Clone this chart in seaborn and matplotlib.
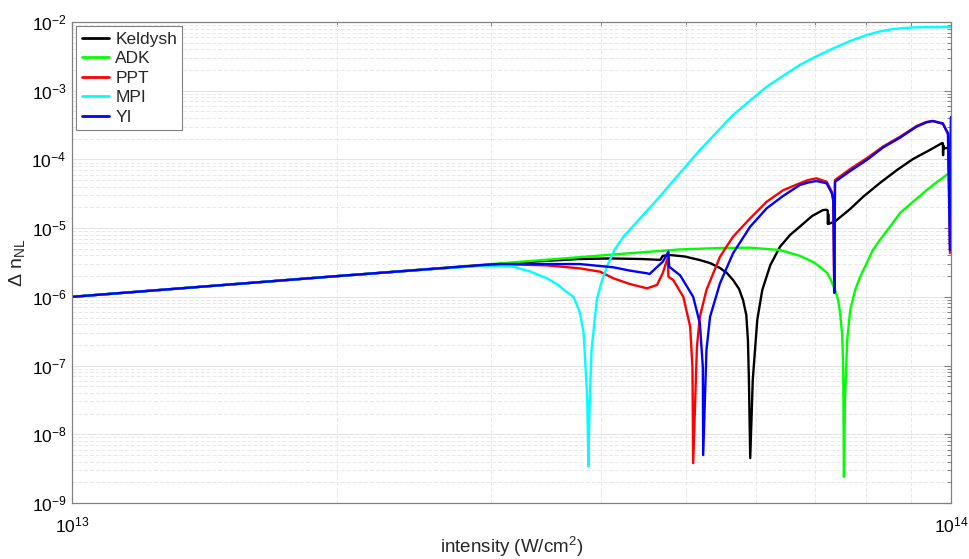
import numpy as np
import pandas as pd
import matplotlib
matplotlib.use("Agg")
import matplotlib.pyplot as plt
from matplotlib.ticker import LogLocator, NullFormatter, LogFormatterSciNotation
import seaborn as sns

# Intensities are given in units of 1e13 W/cm^2
I_UNIT = 1e13

# Keldysh model
I_keldysh = [1.0, 2.0, 2.9, 3.4, 3.78, 4.1, 4.45, 4.67, 4.70, 4.79, 4.98, 5.18,
             5.32, 5.46, 5.56, 5.65, 5.74, 5.80, 5.85, 5.875, 5.89, 5.91, 5.95,
             6.02, 6.10, 6.23, 6.39, 6.56, 6.73, 6.95, 7.15, 7.22, 7.24, 7.245,
             7.25, 7.255, 7.38, 7.68, 7.94, 8.30, 8.68, 9.05, 9.46, 9.77, 9.79,
             9.795, 9.80, 9.805, 9.92, 10.0]
dn_keldysh = [1.0e-6, 2.0e-6, 2.85e-6, 3.3e-6, 3.55e-6, 3.62e-6, 3.55e-6, 3.45e-6,
              3.95e-6, 4.06e-6, 3.86e-6, 3.43e-6, 3.1e-6, 2.63e-6, 2.22e-6, 1.76e-6,
              1.3e-6, 9.0e-7, 5.43e-7, 2.35e-7, 6.15e-8, 4.5e-9, 6.2e-8, 4.6e-7,
              1.26e-6, 2.9e-6, 5.36e-6, 7.94e-6, 1.05e-5, 1.5e-5, 1.83e-5, 1.85e-5,
              1.8e-5, 1.15e-5, 1.6e-5, 1.15e-5, 1.25e-5, 1.9e-5, 2.84e-5, 4.53e-5,
              7.0e-5, 1.01e-4, 1.37e-4, 1.73e-4, 1.72e-4, 1.15e-4, 1.6e-4, 1.45e-4,
              1.47e-4, 1.3e-4]

# ADK model
I_adk = [1.0, 2.0, 3.0, 4.0, 4.5, 4.92, 5.5, 5.91, 6.39, 6.73, 6.97, 7.10, 7.23,
         7.30, 7.38, 7.44, 7.48, 7.52, 7.54, 7.555, 7.575, 7.62, 7.68, 7.78, 7.88,
         8.01, 8.15, 8.30, 8.52, 8.75, 9.10, 9.54, 9.92, 10.0]
dn_adk = [1.0e-6, 2.0e-6, 3.0e-6, 4.0e-6, 4.5e-6, 4.9e-6, 5.15e-6, 5.19e-6, 4.8e-6,
          3.95e-6, 3.21e-6, 2.72e-6, 2.22e-6, 1.76e-6, 1.26e-6, 9.0e-7, 5.8e-7,
          2.78e-7, 9.5e-8, 2.4e-9, 3.15e-8, 2.35e-7, 6.4e-7, 1.26e-6, 1.94e-6,
          3.0e-6, 4.8e-6, 6.71e-6, 1.04e-5, 1.66e-5, 2.56e-5, 4.24e-5, 6.13e-5,
          6.5e-5]

# PPT model
I_ppt = [1.0, 2.0, 2.91, 3.07, 3.47, 3.78, 3.99, 4.13, 4.31, 4.51, 4.63, 4.70,
         4.765, 4.77, 4.83, 4.96, 5.05, 5.08, 5.09, 5.14, 5.18, 5.27, 5.46, 5.65,
         5.91, 6.17, 6.44, 6.73, 6.88, 7.03, 7.22, 7.32, 7.347, 7.366, 7.38, 7.68,
         8.02, 8.37, 8.75, 9.14, 9.37, 9.54, 9.79, 9.93, 9.974, 10.0]
dn_ppt = [1.0e-6, 2.0e-6, 2.88e-6, 3.0e-6, 2.87e-6, 2.6e-6, 2.32e-6, 1.86e-6,
          1.54e-6, 1.33e-6, 1.49e-6, 2.22e-6, 3.8e-6, 1.96e-6, 1.76e-6, 1.0e-6,
          3.67e-7, 9.6e-8, 3.8e-9, 1.88e-7, 5.13e-7, 1.26e-6, 3.83e-6, 7.5e-6,
          1.39e-5, 2.42e-5, 3.55e-5, 4.49e-5, 5.01e-5, 5.31e-5, 4.73e-5, 3.39e-5,
          2.42e-5, 1.26e-6, 5.01e-5, 7.25e-5, 1.04e-4, 1.54e-4, 2.14e-4, 3.06e-4,
          3.5e-4, 3.62e-4, 3.35e-4, 2.27e-4, 4.34e-6, 4.1e-4]

# Multiphoton ionization
I_mpi = [1.0, 2.0, 2.5, 2.91, 3.05, 3.18, 3.32, 3.47, 3.56, 3.65, 3.72, 3.78,
         3.82, 3.857, 3.868, 3.879, 3.90, 3.954, 4.0, 4.06, 4.14, 4.24, 4.43,
         4.67, 4.75, 5.18, 5.65, 5.91, 6.17, 6.44, 6.73, 7.04, 7.35, 7.68, 8.02,
         8.30, 8.60, 8.87, 9.14, 10.0]
dn_mpi = [1.0e-6, 2.0e-6, 2.48e-6, 2.8e-6, 2.82e-6, 2.74e-6, 2.34e-6, 1.86e-6,
          1.54e-6, 1.19e-6, 1.0e-6, 6.1e-7, 3.0e-7, 3.15e-8, 3.4e-9, 2.25e-8,
          1.68e-7, 9.0e-7, 1.59e-6, 2.74e-6, 4.8e-6, 7.5e-6, 1.39e-5, 2.93e-5,
          3.8e-5, 1.37e-4, 4.43e-4, 7.2e-4, 1.14e-3, 1.64e-3, 2.37e-3, 3.2e-3,
          4.14e-3, 5.29e-3, 6.47e-3, 7.27e-3, 7.91e-3, 8.18e-3, 8.37e-3, 8.46e-3]

# Yudin-Ivanov model
I_yi = [1.0, 2.0, 2.91, 3.07, 3.78, 4.13, 4.31, 4.51, 4.54, 4.70, 4.77, 4.78,
        4.92, 5.09, 5.18, 5.22, 5.225, 5.27, 5.32, 5.46, 5.65, 5.91, 6.17, 6.44,
        6.73, 6.88, 7.03, 7.22, 7.32, 7.347, 7.366, 7.38, 7.68, 8.02, 8.37, 8.75,
        9.14, 9.37, 9.53, 9.79, 9.92, 9.974, 10.0]
dn_yi = [1.0e-6, 2.0e-6, 2.88e-6, 3.0e-6, 3.0e-6, 2.69e-6, 2.41e-6, 2.2e-6,
         2.15e-6, 3.24e-6, 4.54e-6, 2.74e-6, 2.05e-6, 1.0e-6, 4.11e-7, 9.6e-8,
         4.98e-9, 1.68e-7, 5.13e-7, 1.57e-6, 4.3e-6, 1.05e-5, 1.94e-5, 2.93e-5,
         4.24e-5, 4.61e-5, 4.85e-5, 4.49e-5, 3.2e-5, 2.6e-5, 1.14e-6, 4.73e-5,
         6.78e-5, 9.8e-5, 1.49e-4, 2.07e-4, 3.0e-4, 3.45e-4, 3.62e-4, 3.3e-4,
         2.42e-4, 4.8e-6, 4.14e-4]

series = [
    ("Keldysh", I_keldysh, dn_keldysh, "#000000"),
    ("ADK", I_adk, dn_adk, "#00ff00"),
    ("PPT", I_ppt, dn_ppt, "#ff0000"),
    ("MPI", I_mpi, dn_mpi, "#00ffff"),
    ("YI", I_yi, dn_yi, "#0000ff"),
]

sns.set_theme(style="white")
plt.rcParams["font.family"] = ["Liberation Sans", "DejaVu Sans"]
plt.rcParams["mathtext.fontset"] = "custom"
plt.rcParams["mathtext.rm"] = "Liberation Sans"
plt.rcParams["mathtext.it"] = "Liberation Sans:italic"
plt.rcParams["mathtext.bf"] = "Liberation Sans:bold"
plt.rcParams["axes.unicode_minus"] = False

fig = plt.figure(figsize=(9.69, 5.59), dpi=100)
ax = fig.add_axes([0.0743, 0.1002, 0.9071, 0.8605])

for name, xs, ys, col in series:
    df = pd.DataFrame({"intensity": np.asarray(xs) * I_UNIT, "dn": ys})
    sns.lineplot(data=df, x="intensity", y="dn", ax=ax, color=col, lw=1.7,
                 label=name, estimator=None, sort=False)

ax.set_xscale("log")
ax.set_yscale("log")
ax.set_xlim(1e13, 1e14)
ax.set_ylim(1e-9, 1e-2)

ax.xaxis.set_major_locator(LogLocator(base=10, numticks=5))
ax.xaxis.set_minor_locator(LogLocator(base=10, subs=np.arange(2, 10), numticks=20))
ax.yaxis.set_major_locator(LogLocator(base=10, numticks=12))
ax.yaxis.set_minor_locator(LogLocator(base=10, subs=np.arange(2, 10), numticks=20))
ax.xaxis.set_major_formatter(LogFormatterSciNotation())
ax.yaxis.set_major_formatter(LogFormatterSciNotation())
ax.xaxis.set_minor_formatter(NullFormatter())
ax.yaxis.set_minor_formatter(NullFormatter())

ax.grid(True, which="major", color="#e3e3e3", lw=0.7, ls="-")
ax.grid(True, which="minor", color="#e8e8e8", lw=0.7, ls=(0, (4, 2)))
ax.set_axisbelow(True)

ax.tick_params(which="both", direction="in", top=True, right=True,
               colors="#808080", labelcolor="black", labelsize=12.5)
ax.tick_params(which="major", length=5, width=0.8)
ax.tick_params(which="minor", length=3, width=0.7)
ax.tick_params(axis="x", which="major", pad=9)
ax.tick_params(axis="y", which="major", pad=4)
for sp in ax.spines.values():
    sp.set_color("#808080")
    sp.set_linewidth(0.9)

ax.set_xlabel("intensity (W/cm$^2$)", fontsize=13.5, labelpad=0)
ax.set_ylabel("Δ n$_{\\mathrm{NL}}$", fontsize=14, labelpad=3)

leg = ax.legend(loc="upper left", fontsize=12.5, frameon=True, fancybox=False,
                borderaxespad=0.25, borderpad=0.3, labelspacing=0.25,
                handlelength=1.6, handletextpad=0.35)
leg.get_frame().set_edgecolor("#808080")
leg.get_frame().set_linewidth(0.8)
leg.get_frame().set_alpha(1.0)
for line in leg.get_lines():
    line.set_linewidth(2.0)

fig.savefig("out.png", dpi=100)
